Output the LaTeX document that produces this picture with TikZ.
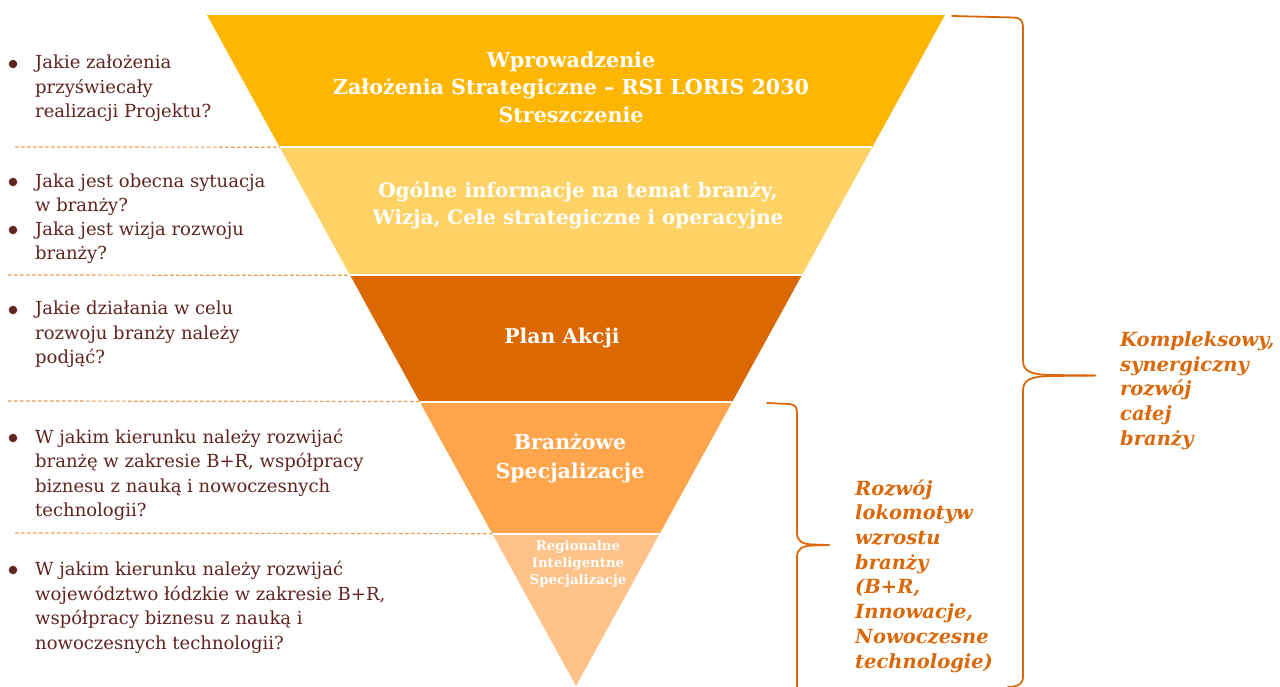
\documentclass[tikz,border=0pt]{standalone}
\usepackage{fontspec}
\setmainfont{DejaVu Serif}
\usetikzlibrary{calc}
\definecolor{bandA}{HTML}{FFB600}
\definecolor{bandB}{HTML}{FFD266}
\definecolor{bandC}{HTML}{DB6800}
\definecolor{bandD}{HTML}{FFA64D}
\definecolor{bandE}{HTML}{FFC38A}
\definecolor{qtext}{RGB}{96,36,32}
\definecolor{dashc}{HTML}{EE9A50}
\definecolor{brc}{HTML}{D9690A}
\tikzset{
  qnode/.style={anchor=west, align=left, text=qtext, font=\fontsize{18}{24.5}\selectfont, inner sep=0pt},
  bul/.style={circle, fill=qtext, inner sep=0pt, minimum size=8.5pt},
  bandtext/.style={text=white, align=center, inner sep=0pt},
  lab/.style={anchor=west, align=left, text=brc, font=\bfseries\itshape\fontsize{19.5}{24.7}\selectfont, inner sep=0pt},
  sep/.style={dashc, dash pattern=on 3.5pt off 2.5pt, line width=1.2pt},
  bracel/.style={brc, line width=1.8pt, line cap=round, line join=round},
  gap/.style={white, line width=2pt}
}
\begin{document}
\begin{tikzpicture}[x=1pt,y=-1pt]
\useasboundingbox (0,0) rectangle (1280,686);
% triangle corners
\coordinate (TL) at (207,15);
\coordinate (TR) at (945,15);
\coordinate (A) at (576,686);
\coordinate (L1) at ($(TL)!0.197!(A)$);
\coordinate (R1) at ($(TR)!0.197!(A)$);
\coordinate (L2) at ($(TL)!0.388!(A)$);
\coordinate (R2) at ($(TR)!0.388!(A)$);
\coordinate (L3) at ($(TL)!0.576!(A)$);
\coordinate (R3) at ($(TR)!0.576!(A)$);
\coordinate (L4) at ($(TL)!0.773!(A)$);
\coordinate (R4) at ($(TR)!0.773!(A)$);
% bands
\fill[bandA] (TL) -- (TR) -- (R1) -- (L1) -- cycle;
\fill[bandB] (L1) -- (R1) -- (R2) -- (L2) -- cycle;
\fill[bandC] (L2) -- (R2) -- (R3) -- (L3) -- cycle;
\fill[bandD] (L3) -- (R3) -- (R4) -- (L4) -- cycle;
\fill[bandE] (L4) -- (R4) -- (A) -- cycle;
\draw[gap] (L1) -- (R1);
\draw[gap] (L2) -- (R2);
\draw[gap] (L3) -- (R3);
\draw[gap] (L4) -- (R4);
% dashed separators
\coordinate (D1) at (15,147);
\coordinate (D2) at (8,275);
\coordinate (D3) at (8,401);
\coordinate (D4) at (15,533);
\draw[sep] (D1) -- (L1);
\draw[sep] (D2) -- (L2);
\draw[sep] (D3) -- (L3);
\draw[sep] (D4) -- (L4);
% band texts
\node[bandtext, font=\bfseries\fontsize{20.6}{27.5}\selectfont] (t1) at (571,87) {Wprowadzenie\\Założenia Strategiczne – RSI LORIS 2030\\Streszczenie};
\node[bandtext, font=\bfseries\fontsize{19.9}{27}\selectfont] (t2) at (578,205.5) {Ogólne informacje na temat branży,\\Wizja, Cele strategiczne i operacyjne};
\node[bandtext, font=\bfseries\fontsize{20.3}{28}\selectfont] (t3) at (562,338) {Plan Akcji};
\node[bandtext, font=\bfseries\fontsize{20.5}{29}\selectfont] (t4) at (570,458.5) {Branżowe\\Specjalizacje};
\node[bandtext, font=\bfseries\fontsize{13.3}{17}\selectfont] (t5) at (578,564) {Regionalne\\Inteligentne\\Specjalizacje};
% left questions
\node[bul] (b1) at (13,64) {};
\node[qnode] (q1) at (35,88.5) {Jakie założenia\\przyświecały\\realizacji Projektu?};
\node[bul] (b2) at (13,182) {};
\node[qnode] (q2) at (35,194.5) {Jaka jest obecna sytuacja\\w branży?};
\node[bul] (b3) at (13,230) {};
\node[qnode] (q3) at (35,242.5) {Jaka jest wizja rozwoju\\branży?};
\node[bul] (b4) at (13,310) {};
\node[qnode] (q4) at (35,334.5) {Jakie działania w celu\\rozwoju branży należy\\podjąć?};
\node[bul] (b5) at (13,438) {};
\node[qnode] (q5) at (35,475) {W jakim kierunku należy rozwijać\\branżę w zakresie B+R, współpracy\\biznesu z nauką i nowoczesnych\\technologii?};
\node[bul] (b6) at (13,570) {};
\node[qnode] (q6) at (35,607.5) {W jakim kierunku należy rozwijać\\województwo łódzkie w zakresie B+R,\\współpracy biznesu z nauką i\\nowoczesnych technologii?};
% big brace
\coordinate (BT) at (952,16);
\coordinate (BM) at (1095,375.5);
\coordinate (BB) at (1008,687);
\draw[bracel] (BT) -- (1014,17.5) .. controls (1021,18) and (1023,21) .. (1023,28) -- (1023,360)
  .. controls (1023,371) and (1030,374.5) .. (1050,375) -- (BM);
\draw[bracel] (BM) -- (1050,376) .. controls (1030,376.5) and (1023,380) .. (1023,391) -- (1023,676)
  .. controls (1023,684) and (1019,686.5) .. (BB);
% small brace
\coordinate (ST) at (767,403);
\coordinate (SM) at (829,545);
\coordinate (SB) at (797,690);
\draw[bracel] (ST) -- (789,404) .. controls (795,404.5) and (797,407) .. (797,413) -- (797,533)
  .. controls (797,541) and (802,544) .. (812,544.5) -- (SM);
\draw[bracel] (SM) -- (812,545.5) .. controls (802,546) and (797,549) .. (797,557) -- (SB);
% labels
\node[lab] (k1) at (1120,390.5) {Kompleksowy,\\synergiczny\\rozwój\\całej\\branży};
\node[lab] (k2) at (855,576) {Rozwój\\lokomotyw\\wzrostu\\branży\\(B+R,\\Innowacje,\\Nowoczesne\\technologie)};
\end{tikzpicture}
\end{document}
